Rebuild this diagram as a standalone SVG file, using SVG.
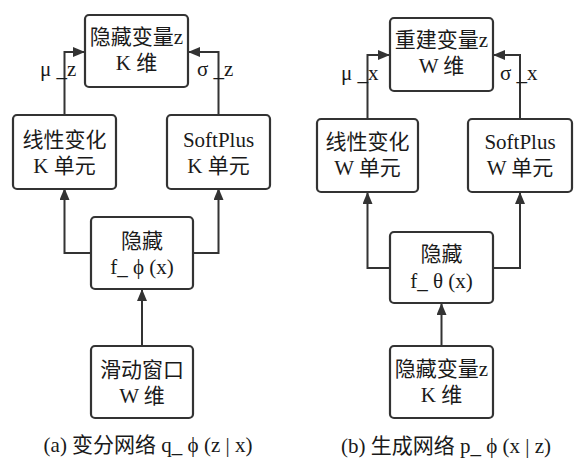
<svg xmlns="http://www.w3.org/2000/svg" width="587" height="471" viewBox="0 0 587 471">
<defs>
<marker id="ah" viewBox="0 0 12 10" markerWidth="12" markerHeight="10" refX="12" refY="5" orient="auto" markerUnits="userSpaceOnUse">
<path d="M0,0 L12,5 L0,10 z" fill="#333"/>
</marker>
<style>
.box{fill:#fff;stroke:#333;stroke-width:2.2}
.t{font-family:"Liberation Serif","Noto Sans CJK SC",serif;font-size:21px;fill:#1a1a1a;text-anchor:middle}
.lbl{font-family:"Liberation Serif","Noto Sans CJK SC",serif;font-size:21px;fill:#1a1a1a}
.c{fill:none;stroke:#333;stroke-width:2;marker-end:url(#ah)}
</style>
</defs>
<rect width="587" height="471" fill="#fff"/>
<g id="connectors">
<path class="c" d="M64.5,115 V52 H85"/>
<path class="c" d="M218.5,115 V52 H188"/>
<path class="c" d="M91,253 H64.5 V188"/>
<path class="c" d="M193,253 H218.5 V188"/>
<path class="c" d="M142,346 V289"/>
<path class="c" d="M367.5,119 V55 H390"/>
<path class="c" d="M520,119 V55 H493"/>
<path class="c" d="M390,268 H367.5 V192"/>
<path class="c" d="M493,268 H520 V192"/>
<path class="c" d="M441.5,346 V303"/>
<text class="lbl" x="40" y="76">μ _z</text>
<text class="lbl" x="197" y="76">σ _z</text>
<text class="lbl" x="341" y="80">μ _x</text>
<text class="lbl" x="500" y="80">σ _x</text>
</g>
<g id="topA"><rect class="box" x="85" y="15" width="103" height="72" rx="4"/><text class="t" x="136.5" y="44">隐藏变量z</text><text class="t" x="136.5" y="70">K 维</text></g>
<g id="linA"><rect class="box" x="13" y="115" width="103" height="74" rx="4"/><text class="t" x="64.5" y="147">线性变化</text><text class="t" x="64.5" y="173">K 单元</text></g>
<g id="spA"><rect class="box" x="167" y="115" width="103" height="74" rx="4"/><text class="t" x="218.5" y="147">SoftPlus</text><text class="t" x="218.5" y="173">K 单元</text></g>
<g id="hidA"><rect class="box" x="91" y="217" width="102" height="72" rx="4"/><text class="t" x="142" y="248">隐藏</text><text class="t" x="142" y="274">f_ ϕ (x)</text></g>
<g id="botA"><rect class="box" x="91" y="346" width="102" height="72" rx="4"/><text class="t" x="142" y="377">滑动窗口</text><text class="t" x="142" y="403">W 维</text></g>
<g id="topB"><rect class="box" x="390" y="18" width="103" height="73" rx="4"/><text class="t" x="441.5" y="47">重建变量z</text><text class="t" x="441.5" y="73">W 维</text></g>
<g id="linB"><rect class="box" x="317" y="119" width="101" height="73" rx="4"/><text class="t" x="367.5" y="149">线性变化</text><text class="t" x="367.5" y="175">W 单元</text></g>
<g id="spB"><rect class="box" x="468" y="119" width="104" height="73" rx="4"/><text class="t" x="520" y="149">SoftPlus</text><text class="t" x="520" y="175">W 单元</text></g>
<g id="hidB"><rect class="box" x="390" y="232" width="103" height="71" rx="4"/><text class="t" x="441.5" y="261">隐藏</text><text class="t" x="441.5" y="288">f_ θ (x)</text></g>
<g id="botB"><rect class="box" x="390" y="346" width="103" height="72" rx="4"/><text class="t" x="441.5" y="376">隐藏变量z</text><text class="t" x="441.5" y="402">K 维</text></g>
<text class="t" x="148" y="452">(a) 变分网络 q_ ϕ (z | x)</text>
<text class="t" x="446" y="453">(b) 生成网络 p_ ϕ (x | z)</text>
</svg>
